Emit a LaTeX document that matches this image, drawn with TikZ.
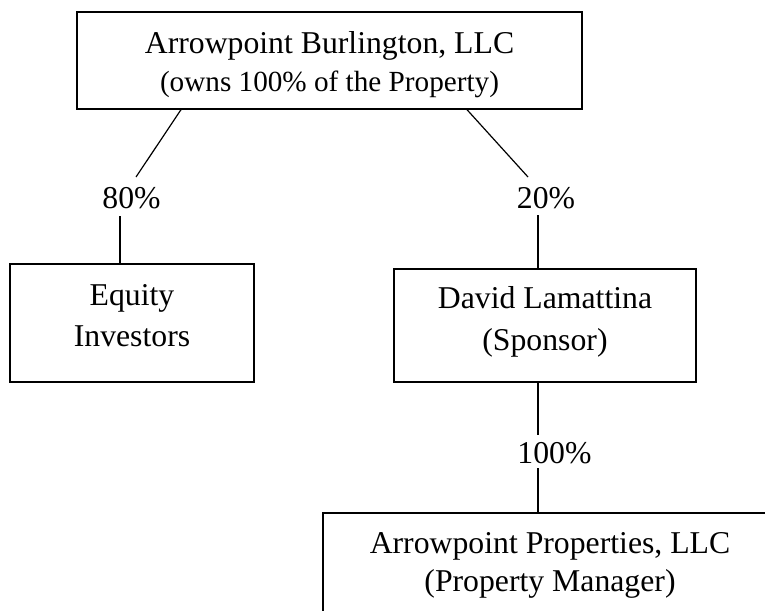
\documentclass[tikz,border=0pt]{standalone}
\usepackage{fontspec}
\setmainfont{Liberation Serif}
\begin{document}
\begin{tikzpicture}[x=0.75pt,y=-0.75pt,
  boxnode/.style={draw, line width=1pt, inner sep=0pt},
  txt/.style={anchor=base, inner sep=0pt, font=\fontsize{23.8}{28}\selectfont},
  smalltxt/.style={anchor=base, inner sep=0pt, font=\fontsize{21.9}{26}\selectfont},
  conn/.style={line width=0.9pt}]
\clip (0,0) rectangle (765,611);
\fill[white] (0,0) rectangle (765,611);
% boxes
\node[boxnode, minimum width=378.75pt, minimum height=72.75pt] (top) at (329.5,60.5) {};
\node[boxnode, minimum width=183pt, minimum height=88.5pt] (eq) at (132,323) {};
\node[boxnode, minimum width=226.5pt, minimum height=84.75pt] (dav) at (545,325.5) {};
\node[boxnode, minimum width=375pt, minimum height=102.75pt] (bot) at (573,581.5) {};
% texts
\node[txt] (t1) at (329.5,53) {Arrowpoint Burlington, LLC};
\node[smalltxt] (t2) at (329.5,91) {(owns 100\% of the Property)};
\node[txt] (p80) at (131.5,208) {80\%};
\node[txt] (p20) at (546,208) {20\%};
\node[txt] (e1t) at (132,305) {Equity};
\node[txt] (e2t) at (132,346) {Investors};
\node[txt] (d1t) at (545,308) {David Lamattina};
\node[txt] (d2t) at (545,350) {(Sponsor)};
\node[txt] (p100) at (554.5,463) {100\%};
\node[txt] (b1t) at (550,553) {Arrowpoint Properties, LLC};
\node[txt] (b2t) at (550,591) {(Property Manager)};
% connectors
\coordinate (a1) at (181,109);
\coordinate (a2) at (136,177);
\coordinate (b1) at (120,216);
\coordinate (c1) at (467,109);
\coordinate (c2) at (528,177);
\coordinate (d1) at (538,215);
\coordinate (e1) at (538,435);
\coordinate (f1) at (538,468);
\draw[conn] (a1 |- top.south) -- (a2);
\draw[conn] (b1) -- (b1 |- eq.north);
\draw[conn] (c1 |- top.south) -- (c2);
\draw[conn] (d1) -- (d1 |- dav.north);
\draw[conn] (e1 |- dav.south) -- (e1);
\draw[conn] (f1) -- (f1 |- bot.north);
\end{tikzpicture}
\end{document}
